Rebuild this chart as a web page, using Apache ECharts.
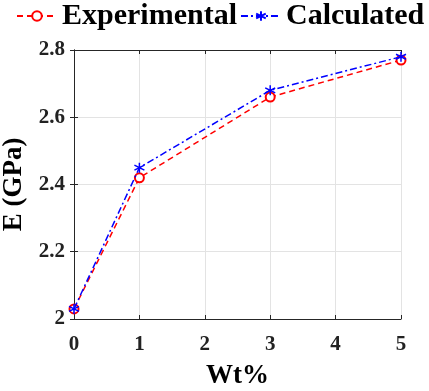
<!DOCTYPE html>
<html>
<head>
<meta charset="utf-8">
<script src="https://cdn.jsdelivr.net/npm/echarts@6/dist/echarts.min.js"></script>
<style>
  html, body { margin: 0; padding: 0; background: #fff; }
  #chart { width: 429px; height: 391px; }
</style>
</head>
<body>
<div id="chart"></div>
<script>
// data
const wt = [0, 1, 3, 5]
const experimental = [2.03, 2.42, 2.66, 2.77]
const calculated = [2.03, 2.45, 2.68, 2.78]

const FONT = '"Liberation Serif", "Times New Roman", serif'
const asterisk = 'path://M5 0L5 10M0.7 2.5L9.3 7.5M0.7 7.5L9.3 2.5'

const pairs = (xs, ys) => xs.map((x, i) => [x, ys[i]])

const chart = echarts.init(document.getElementById('chart'))
const boxAxis = {
    axisLine: { show: true, lineStyle: { color: '#262626', width: 1 } },
    axisTick: { show: true, inside: true, length: 4, lineStyle: { color: '#262626' } },
}
chart.setOption({
    animation: false,
    grid: { left: 74, top: 50, right: 28, bottom: 72, outerBoundsMode: 'none' },
    legend: {
        top: 1,
        left: 16,
        width: 420,
        padding: 0,
        itemWidth: 40,
        itemHeight: 12,
        itemGap: 3,
        textStyle: { fontFamily: FONT, fontWeight: 'bold', fontSize: 30, color: '#000' },
        data: ['Experimental', 'Calculated'],
    },
    xAxis: [{
        type: 'value', min: 0, max: 5, interval: 1,
        name: 'Wt%', nameLocation: 'middle', nameGap: 44,
        nameTextStyle: { fontFamily: FONT, fontWeight: 'bold', fontSize: 27, color: '#000' },
        axisLabel: { fontFamily: FONT, fontWeight: 'bold', fontSize: 21, color: '#222', margin: 15 },
        splitLine: { show: true, lineStyle: { color: '#e3e3e3' } },
        ...boxAxis,
    }, {
        type: 'value', min: 0, max: 5, interval: 1, position: 'top',
        axisLabel: { show: false }, splitLine: { show: false },
        ...boxAxis,
    }],
    yAxis: [{
        type: 'value', min: 2, max: 2.8, interval: 0.2,
        name: 'E (GPa)', nameLocation: 'middle', nameGap: 40,
        nameTextStyle: { fontFamily: FONT, fontWeight: 'bold', fontSize: 27, color: '#000' },
        axisLabel: { fontFamily: FONT, fontWeight: 'bold', fontSize: 21, color: '#222', margin: 9,
            formatter: v => String(+v.toFixed(1)) },
        splitLine: { show: true, lineStyle: { color: '#e3e3e3' } },
        ...boxAxis,
    }, {
        type: 'value', min: 2, max: 2.8, interval: 0.2, position: 'right',
        axisLabel: { show: false }, splitLine: { show: false },
        ...boxAxis,
    }],
    series: [{
        name: 'Experimental',
        type: 'line',
        data: pairs(wt, experimental),
        symbol: 'emptyCircle',
        symbolSize: 9,
        lineStyle: { color: '#ff0000', width: 1.5, type: [6, 4] },
        itemStyle: { color: '#ff0000', borderColor: '#ff0000', borderWidth: 1.3 },
        z: 2,
    }, {
        name: 'Calculated',
        type: 'line',
        data: pairs(wt, calculated),
        symbol: asterisk,
        symbolSize: 10,
        lineStyle: { color: '#0000ff', width: 1.5, type: [7, 3, 2, 3] },
        itemStyle: { color: 'none', borderColor: '#0000ff', borderWidth: 1.5 },
        z: 3,
    }],
})
</script>
</body>
</html>
